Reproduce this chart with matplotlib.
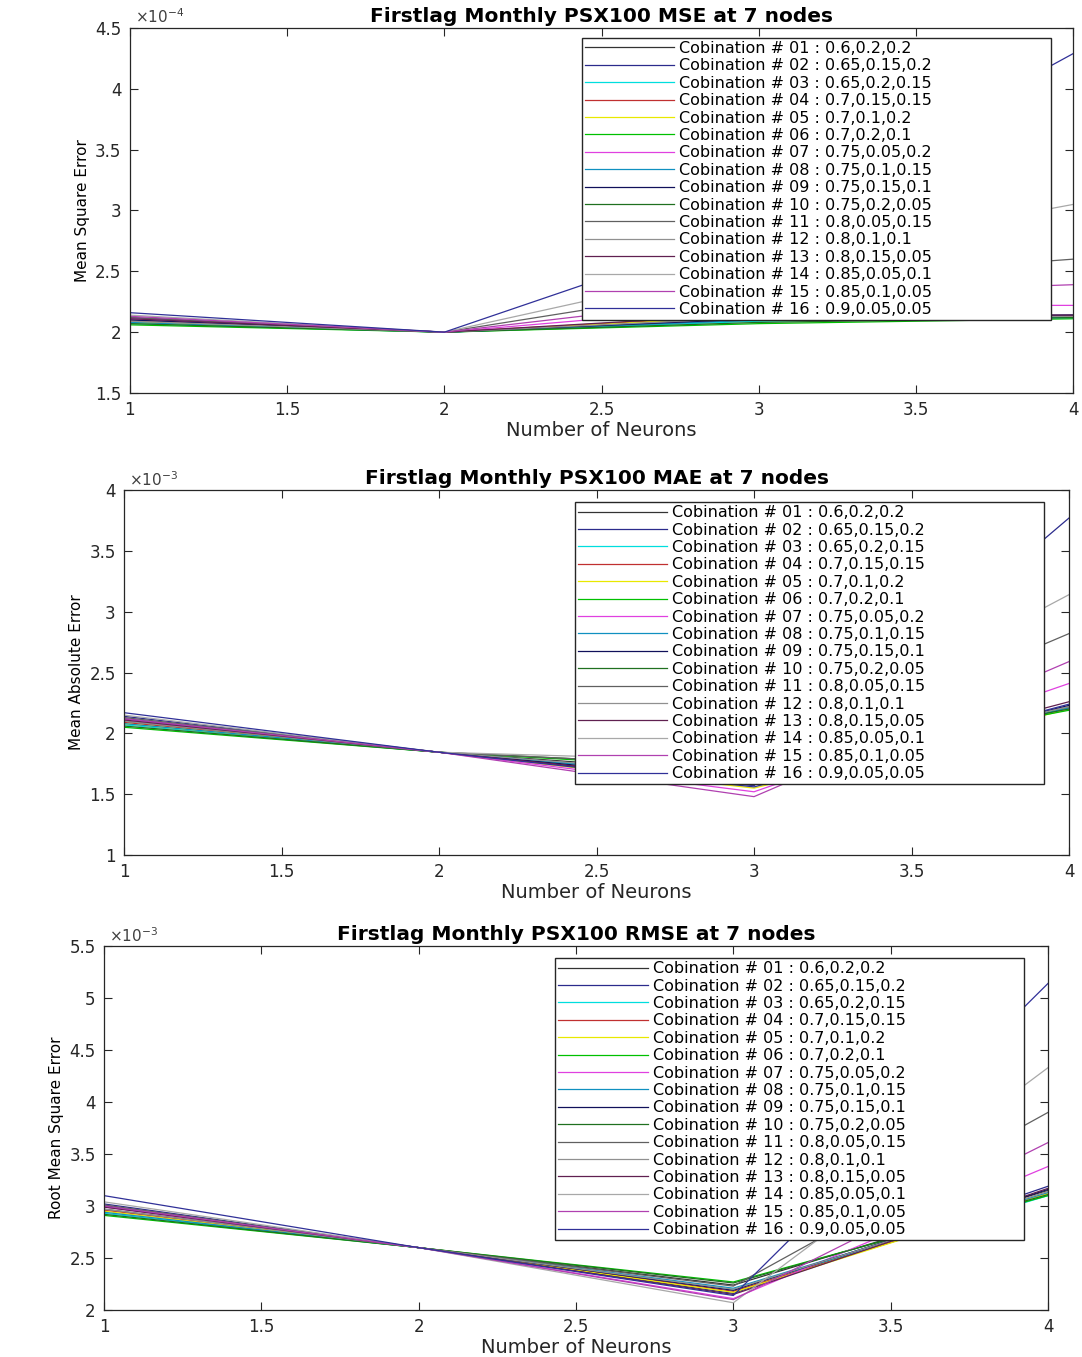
import numpy as np
import matplotlib
matplotlib.use('Agg')
import matplotlib.pyplot as plt
from matplotlib.ticker import FuncFormatter, MultipleLocator

# number of neurons on the x axis
neurons = [1, 2, 3, 4]

labels = [
    'Cobination # 01 : 0.6,0.2,0.2',
    'Cobination # 02 : 0.65,0.15,0.2',
    'Cobination # 03 : 0.65,0.2,0.15',
    'Cobination # 04 : 0.7,0.15,0.15',
    'Cobination # 05 : 0.7,0.1,0.2',
    'Cobination # 06 : 0.7,0.2,0.1',
    'Cobination # 07 : 0.75,0.05,0.2',
    'Cobination # 08 : 0.75,0.1,0.15',
    'Cobination # 09 : 0.75,0.15,0.1',
    'Cobination # 10 : 0.75,0.2,0.05',
    'Cobination # 11 : 0.8,0.05,0.15',
    'Cobination # 12 : 0.8,0.1,0.1',
    'Cobination # 13 : 0.8,0.15,0.05',
    'Cobination # 14 : 0.85,0.05,0.1',
    'Cobination # 15 : 0.85,0.1,0.05',
    'Cobination # 16 : 0.9,0.05,0.05',
]

colors = ['#333333', '#2b2b8c', '#00dede', '#c03030', '#e8e800', '#00c000',
          '#e040e0', '#1090c0', '#10105a', '#207020', '#606060', '#909090',
          '#602050', '#a8a8a8', '#b040b0', '#303098']

# MSE values (x 1e-4)
mse = [
    [2.10, 2.0, 2.10, 2.13],
    [2.12, 2.0, 2.12, 2.14],
    [2.07, 2.0, 2.09, 2.12],
    [2.09, 2.0, 2.14, 2.13],
    [2.08, 2.0, 2.13, 2.12],
    [2.06, 2.0, 2.07, 2.11],
    [2.11, 2.0, 2.22, 2.22],
    [2.08, 2.0, 2.10, 2.12],
    [2.10, 2.0, 2.11, 2.14],
    [2.07, 2.0, 2.08, 2.12],
    [2.12, 2.0, 2.41, 2.60],
    [2.09, 2.0, 2.12, 2.13],
    [2.11, 2.0, 2.15, 2.14],
    [2.14, 2.0, 2.57, 3.05],
    [2.13, 2.0, 2.30, 2.39],
    [2.16, 2.0, 2.88, 4.29],
]

# MAE values (x 1e-3)
mae = [
    [2.10, 1.845, 1.66, 2.22],
    [2.14, 1.845, 1.57, 3.77],
    [2.07, 1.845, 1.62, 2.20],
    [2.09, 1.845, 1.58, 2.21],
    [2.08, 1.845, 1.55, 2.20],
    [2.05, 1.845, 1.70, 2.19],
    [2.11, 1.845, 1.52, 2.41],
    [2.08, 1.845, 1.63, 2.21],
    [2.12, 1.845, 1.60, 2.23],
    [2.06, 1.845, 1.72, 2.20],
    [2.13, 1.845, 1.72, 2.82],
    [2.10, 1.845, 1.64, 2.22],
    [2.11, 1.845, 1.58, 2.26],
    [2.15, 1.845, 1.77, 3.14],
    [2.12, 1.845, 1.48, 2.59],
    [2.17, 1.845, 1.56, 2.24],
]

# RMSE values (x 1e-3)
rmse = [
    [2.97, 2.6, 2.24, 3.15],
    [3.02, 2.6, 2.16, 3.19],
    [2.93, 2.6, 2.20, 3.10],
    [2.96, 2.6, 2.18, 3.12],
    [2.95, 2.6, 2.17, 3.12],
    [2.91, 2.6, 2.27, 3.10],
    [2.99, 2.6, 2.11, 3.38],
    [2.94, 2.6, 2.21, 3.13],
    [3.00, 2.6, 2.19, 3.16],
    [2.92, 2.6, 2.26, 3.11],
    [3.01, 2.6, 2.23, 3.90],
    [2.97, 2.6, 2.20, 3.14],
    [2.99, 2.6, 2.15, 3.17],
    [3.04, 2.6, 2.07, 4.33],
    [3.00, 2.6, 2.10, 3.61],
    [3.10, 2.6, 2.14, 5.14],
]

panels = [
    (mse, 1e-4, -4, 'Firstlag Monthly PSX100 MSE at 7 nodes', 'Mean Square Error', (1.5, 4.5),
     [0.120, 0.7104, 0.872, 0.269], (0.479, 0.973)),
    (mae, 1e-3, -3, 'Firstlag Monthly PSX100 MAE at 7 nodes', 'Mean Absolute Error', (1.0, 4.0),
     [0.1146, 0.3699, 0.8734, 0.269], (0.477, 0.967)),
    (rmse, 1e-3, -3, 'Firstlag Monthly PSX100 RMSE at 7 nodes', 'Root Mean Square Error', (2.0, 5.5),
     [0.0961, 0.0346, 0.8725, 0.2683], (0.478, 0.967)),
]

fig = plt.figure(figsize=(10.82, 13.57), dpi=100)

for data, scale, expo, title, ylab, ylim, pos, legpos in panels:
    ax = fig.add_axes(pos)
    for i in range(len(data)):
        ax.plot(neurons, np.array(data[i]) * scale, color=colors[i], lw=0.9, label=labels[i])
    ax.set_xlim(1, 4)
    ax.set_ylim(ylim[0] * scale, ylim[1] * scale)
    ax.xaxis.set_major_locator(MultipleLocator(0.5))
    ax.yaxis.set_major_locator(MultipleLocator(0.5 * scale))
    ax.xaxis.set_major_formatter(FuncFormatter(lambda v, p: '%g' % v))
    ax.yaxis.set_major_formatter(FuncFormatter(lambda v, p, s=scale: '%g' % round(v / s, 6)))
    ax.tick_params(direction='in', length=6, width=0.8, top=True, right=True,
                   labelsize=12, colors='#262626', pad=6)
    for sp in ax.spines.values():
        sp.set_color('#262626')
        sp.set_linewidth(0.9)
    ax.text(0.005, 1.004, r'$\times10^{%d}$' % expo, transform=ax.transAxes,
            ha='left', va='bottom', fontsize=11, color='#404040')
    ax.set_title(title, fontsize=14.5, fontweight='bold', pad=4)
    ax.set_ylabel(ylab, fontsize=11)
    ax.set_xlabel('Number of Neurons', fontsize=14, labelpad=1, color='#262626')
    x0, ytop = legpos
    ax.legend(loc='upper left', bbox_to_anchor=(x0, 0.0, 0.497, ytop), mode='expand',
              fontsize=11.5, labelspacing=0.15, handlelength=5.6, handletextpad=0.3,
              borderpad=0.2, borderaxespad=0, fancybox=False, framealpha=1,
              edgecolor='#262626')

fig.savefig('out.png', dpi=100)
